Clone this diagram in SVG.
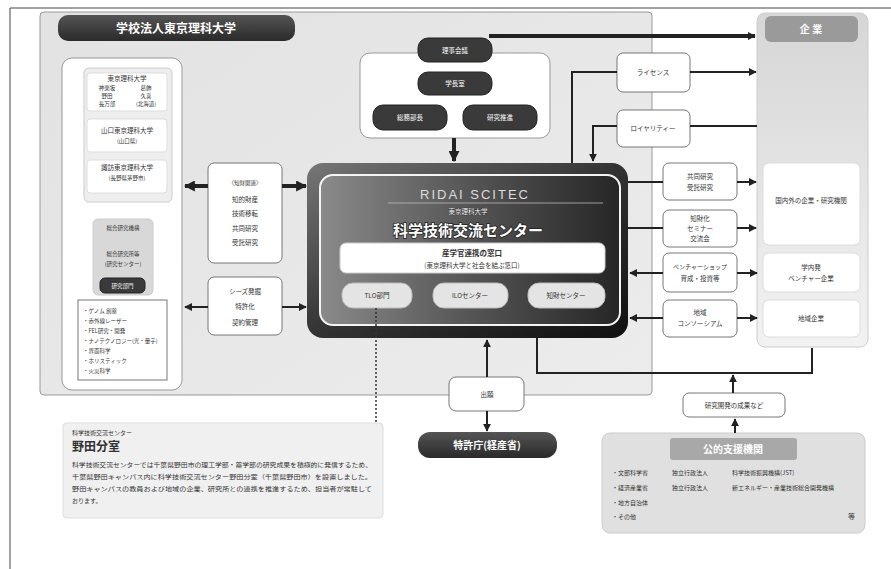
<svg xmlns="http://www.w3.org/2000/svg" width="891" height="569" viewBox="0 0 891 569">
<defs>
<style>
.t{font-family:"Noto Sans CJK JP","Noto Sans",sans-serif;fill:#333}
.s{font-size:6.5px}
.m{font-size:7.5px}
.w{fill:#fff}
.c{text-anchor:middle}
.bx{fill:#fff;stroke:#777;stroke-width:1}
.dp{fill:#3a3a3a;stroke:#222;stroke-width:1}
.lp{fill:#e4e4e4;stroke:#bbb;stroke-width:1}
.ln{fill:none;stroke:#222;stroke-width:2}
.th{fill:none;stroke:#222;stroke-width:4}
</style>
<marker id="ah" viewBox="0 0 10 10" refX="9" refY="5" markerUnits="userSpaceOnUse" markerWidth="8" markerHeight="8" orient="auto-start-reverse"><path d="M0,0 L10,5 L0,10 z" fill="#222"/></marker>
<marker id="ahb" viewBox="0 0 10 10" refX="9" refY="5" markerUnits="userSpaceOnUse" markerWidth="11" markerHeight="11" orient="auto-start-reverse"><path d="M0,0 L10,5 L0,10 z" fill="#222"/></marker>
<linearGradient id="gp" x1="0" y1="0" x2="1" y2="1"><stop offset="0" stop-color="#e2e2e2"/><stop offset="1" stop-color="#ececec"/></linearGradient>
<linearGradient id="go" x1="0" y1="0" x2="1" y2="1"><stop offset="0" stop-color="#777"/><stop offset="0.5" stop-color="#333"/><stop offset="1" stop-color="#111"/></linearGradient>
<linearGradient id="gi" x1="0" y1="0" x2="1" y2="0"><stop offset="0" stop-color="#8a8a8a"/><stop offset="0.5" stop-color="#555"/><stop offset="1" stop-color="#262626"/></linearGradient>
<linearGradient id="gc" x1="0" y1="0" x2="0" y2="1"><stop offset="0" stop-color="#d6d6d6"/><stop offset="1" stop-color="#f2f2f2"/></linearGradient>
<linearGradient id="gd" x1="0" y1="0" x2="0" y2="1"><stop offset="0" stop-color="#555"/><stop offset="1" stop-color="#2a2a2a"/></linearGradient>
</defs>
<rect width="891" height="569" fill="#fff"/>
<path d="M10,569 V8 H891" fill="none" stroke="#444" stroke-width="1"/>

<g id="university-panel">
<rect x="40" y="12" width="612" height="383" rx="4" fill="url(#gp)" stroke="#999" stroke-width="1"/>
<rect x="58" y="15" width="237" height="26" rx="10" fill="url(#gd)"/>
<text class="t w c" x="176" y="33" font-size="12" font-weight="bold">学校法人東京理科大学</text>
</g>

<g id="campus-column">
<rect x="62" y="58" width="120" height="332" rx="10" fill="#fff" stroke="#999"/>
<rect x="84" y="68" width="88" height="134" rx="5" fill="#eee" stroke="#ccc"/>
<rect x="87" y="73" width="80" height="38" rx="3" fill="#fff" stroke="#ddd"/>
<text class="t s c" x="127" y="81">東京理科大学</text>
<text class="t c" font-size="5.5" x="107" y="90">神楽坂</text><text class="t c" font-size="5.5" x="146" y="90">葛飾</text>
<text class="t c" font-size="5.5" x="107" y="98">野田</text><text class="t c" font-size="5.5" x="146" y="98">久喜</text>
<text class="t c" font-size="5.5" x="107" y="106">長万部</text><text class="t c" font-size="5.5" x="146" y="106">(北海道)</text>
<rect x="87" y="119" width="80" height="33" rx="3" fill="#fff" stroke="#ddd"/>
<text class="t s c" x="127" y="133">山口東京理科大学</text>
<text class="t c" font-size="5.5" x="127" y="143">(山口県)</text>
<rect x="87" y="160" width="80" height="33" rx="3" fill="#fff" stroke="#ddd"/>
<text class="t s c" x="127" y="170">諏訪東京理科大学</text>
<text class="t c" font-size="5.5" x="127" y="180">(長野県茅野市)</text>
<rect x="93" y="219" width="60" height="76" rx="5" fill="#d8d8d8" stroke="#ccc"/>
<text class="t c" font-size="5.5" x="123" y="230">総合研究機構</text>
<text class="t c" font-size="5.5" x="123" y="256">総合研究所等</text>
<text class="t c" font-size="5.5" x="123" y="266">(研究センター)</text>
<rect x="100" y="278" width="45" height="15" rx="5" class="dp"/>
<text class="t w c" font-size="5.5" x="122.5" y="288">研究部門</text>
<rect x="78" y="300" width="89" height="80" fill="#fff" stroke="#777"/>
<text class="t" font-size="5.5" x="83" y="313">・ゲノム 創薬</text>
<text class="t" font-size="5.5" x="83" y="323">・赤外線レーザー</text>
<text class="t" font-size="5.5" x="83" y="333">・FEL研究・開発</text>
<text class="t" font-size="5.5" x="83" y="343">・ナノテクノロジー(光・量子)</text>
<text class="t" font-size="5.5" x="83" y="353">・界面科学</text>
<text class="t" font-size="5.5" x="83" y="363">・ホリスティック</text>
<text class="t" font-size="5.5" x="83" y="373">・火災科学</text>
</g>

<g id="ip-box">
<rect x="208" y="163" width="74" height="100" rx="6" class="bx"/>
<text class="t c" font-size="5.5" x="245" y="185">〈知財関連〉</text>
<text class="t s c" x="245" y="202">知的財産</text>
<text class="t s c" x="245" y="216">技術移転</text>
<text class="t s c" x="245" y="231">共同研究</text>
<text class="t s c" x="245" y="245">受託研究</text>
</g>
<g id="seeds-box">
<rect x="208" y="277" width="74" height="58" rx="6" class="bx"/>
<text class="t s c" x="245" y="294">シーズ発掘</text>
<text class="t s c" x="245" y="309">特許化</text>
<text class="t s c" x="245" y="325">契約管理</text>
</g>

<g id="executive-group">
<rect x="360" y="53" width="190" height="85" rx="10" fill="#fff" stroke="#999"/>
<rect x="418" y="38" width="74" height="24" rx="10" class="dp"/>
<text class="t w c s" x="455" y="53">理事会議</text>
<rect x="418" y="72" width="74" height="23" rx="10" class="dp"/>
<text class="t w c s" x="455" y="86">学長室</text>
<rect x="373" y="105" width="74" height="25" rx="10" class="dp"/>
<text class="t w c s" x="410" y="120">総務部長</text>
<rect x="463" y="105" width="74" height="25" rx="10" class="dp"/>
<text class="t w c s" x="500" y="120">研究推進</text>
</g>

<g id="scitec-center">
<rect x="307" y="163" width="321" height="175" rx="16" fill="url(#go)"/>
<rect x="320" y="175" width="300" height="150" rx="13" fill="url(#gi)" stroke="#f4f4f4" stroke-width="2"/>
<text x="475" y="199" text-anchor="middle" font-family="Liberation Sans, sans-serif" font-size="13" fill="#ddd" letter-spacing="2">RIDAI SCITEC</text>
<line x1="388" y1="203" x2="603" y2="203" stroke="#bbb" stroke-width="0.8"/>
<text class="t w c" font-size="6.5" x="468" y="214" stroke="#222" stroke-width="0.5" paint-order="stroke">東京理科大学</text>
<text class="t w c" font-size="15" font-weight="bold" x="468" y="236" stroke="#222" stroke-width="1.5" paint-order="stroke">科学技術交流センター</text>
<rect x="340" y="243" width="265" height="30" rx="6" fill="#fff" stroke="#ccc"/>
<text class="t c m" font-weight="bold" x="472" y="256">産学官連携の窓口</text>
<text class="t c s" x="472" y="268">(東京理科大学と社会を結ぶ窓口)</text>
<rect x="342" y="283" width="70" height="25" rx="11" class="lp"/>
<text class="t c s" x="377" y="298">TLO部門</text>
<rect x="433" y="283" width="75" height="25" rx="11" class="lp"/>
<text class="t c s" x="470" y="298">ILOセンター</text>
<rect x="528" y="283" width="77" height="25" rx="11" class="lp"/>
<text class="t c s" x="566" y="298">知財センター</text>
</g>

<g id="license-box"><rect x="617" y="53" width="73" height="39" rx="6" class="bx"/><text class="t c s" x="653" y="75">ライセンス</text></g>
<g id="royalty-box"><rect x="617" y="110" width="73" height="37" rx="6" class="bx"/><text class="t c s" x="653" y="131">ロイヤリティー</text></g>
<g id="joint-research-box"><rect x="663" y="163" width="74" height="37" rx="6" class="bx"/><text class="t c s" x="700" y="179">共同研究</text><text class="t c s" x="700" y="190">受託研究</text></g>
<g id="seminar-box"><rect x="663" y="210" width="74" height="37" rx="6" class="bx"/><text class="t c s" x="700" y="221">知財化</text><text class="t c s" x="700" y="231">セミナー</text><text class="t c s" x="700" y="241">交流会</text></g>
<g id="venture-box"><rect x="663" y="253" width="74" height="39" rx="6" class="bx"/><text class="t c" font-size="6" x="700" y="269">ベンチャーショップ</text><text class="t c s" x="700" y="281">育成・投資等</text></g>
<g id="consortium-box"><rect x="663" y="300" width="74" height="37" rx="6" class="bx"/><text class="t c s" x="700" y="315">地域</text><text class="t c s" x="700" y="326">コンソーシアム</text></g>

<g id="companies">
<rect x="757" y="13" width="111" height="334" rx="8" fill="url(#gc)" stroke="#ccc"/>
<rect x="765" y="16" width="93" height="26" rx="6" fill="#9a9a9a"/>
<text class="t w c" font-size="10" font-weight="bold" x="811" y="33">企 業</text>
<rect x="763" y="163" width="97" height="82" rx="6" fill="#fff" stroke="#ddd"/>
<text class="t c s" x="811" y="203">国内外の企業・研究機関</text>
<rect x="763" y="253" width="97" height="39" rx="6" fill="#fff" stroke="#ddd"/>
<text class="t c s" x="811" y="270">学内発</text><text class="t c s" x="811" y="281">ベンチャー企業</text>
<rect x="763" y="300" width="97" height="37" rx="6" fill="#fff" stroke="#ddd"/>
<text class="t c s" x="811" y="321">地域企業</text>
</g>

<g id="filing-box"><rect x="449" y="377" width="75" height="34" rx="7" class="bx"/><text class="t c s" x="487" y="397">出願</text></g>
<g id="patent-office"><rect x="418" y="432" width="139" height="26" rx="12" fill="url(#gd)"/><text class="t w c" font-size="10" font-weight="bold" x="487" y="449">特許庁(経産省)</text></g>
<g id="results-box"><rect x="683" y="393" width="102" height="24" rx="6" class="bx"/><text class="t c s" x="734" y="408">研究開発の成果など</text></g>

<g id="noda-office">
<rect x="63" y="423" width="320" height="95" rx="4" fill="#f0f0f0" stroke="#ddd"/>
<text class="t" font-size="6" x="72" y="435">科学技術交流センター</text>
<text class="t" font-size="12" font-weight="bold" x="72" y="451">野田分室</text>
<text class="t" font-size="6" x="72" y="467" textLength="300" lengthAdjust="spacingAndGlyphs">科学技術交流センターでは千葉県野田市の理工学部・薬学部の研究成果を積極的に発信するため、</text>
<text class="t" font-size="6" x="72" y="479" textLength="300" lengthAdjust="spacingAndGlyphs">千葉県野田キャンパス内に科学技術交流センター野田分室（千葉県野田市）を設置しました。</text>
<text class="t" font-size="6" x="72" y="491" textLength="300" lengthAdjust="spacingAndGlyphs">野田キャンパスの教員および地域の企業、研究所との連携を推進するため、担当者が常駐して</text>
<text class="t" font-size="6" x="72" y="503">おります。</text>
</g>

<g id="public-agencies">
<rect x="602" y="433" width="263" height="100" rx="8" fill="#e0e0e0" stroke="#ccc"/>
<rect x="670" y="438" width="127" height="22" rx="3" fill="#a8a8a8"/>
<text class="t w c" font-size="10" font-weight="bold" x="733" y="453">公的支援機関</text>
<text class="t" font-size="6" x="612" y="475">・文部科学省</text><text class="t" font-size="6" x="672" y="475">独立行政法人</text><text class="t" font-size="6" x="732" y="475">科学技術振興機構(JST)</text>
<text class="t" font-size="6" x="612" y="490">・経済産業省</text><text class="t" font-size="6" x="672" y="490">独立行政法人</text><text class="t" font-size="6" x="732" y="490">新エネルギー・産業技術総合開発機構</text>
<text class="t" font-size="6" x="612" y="505">・地方自治体</text>
<text class="t" font-size="6" x="612" y="519">・その他</text>
<text class="t" font-size="7" x="848" y="519">等</text>
</g>

<g id="connectors">
<path class="th" d="M489,36 H755" stroke-width="5" marker-end="url(#ah)"/>
<path class="th" d="M454,138 V161" marker-end="url(#ahb)"/>
<path class="ln" d="M572,163 V72 H617"/>
<path class="ln" d="M690,72 H756" marker-end="url(#ah)"/>
<path class="ln" d="M757,126 H690"/>
<path class="ln" d="M617,126 H593 V161" marker-end="url(#ah)"/>
<path class="ln" d="M628,182 H663"/>
<path class="ln" d="M737,182 H756" stroke-width="1.5" marker-end="url(#ah)"/>
<path class="ln" d="M628,228 H663"/>
<path class="ln" d="M737,228 H756" stroke-width="1.5" marker-end="url(#ah)"/>
<path class="ln" d="M663,273 H630" marker-end="url(#ah)"/>
<path class="ln" d="M737,273 H757" marker-end="url(#ah)"/>
<path class="ln" d="M663,318 H630" marker-end="url(#ah)"/>
<path class="ln" d="M737,318 H757" marker-end="url(#ah)"/>
<path class="th" d="M208,186 H185" marker-end="url(#ahb)"/>
<path class="th" d="M282,186 H306" marker-end="url(#ahb)"/>
<path class="ln" d="M208,307 H185" marker-end="url(#ah)"/>
<path class="ln" d="M282,307 H306" marker-end="url(#ah)"/>
<path class="ln" d="M537,338 V373 H812 V348" stroke-width="2.5"/>
<path class="ln" d="M733,393 V375" marker-end="url(#ah)"/>
<path class="ln" d="M735,433 V419" marker-end="url(#ah)"/>
<path class="ln" d="M487,377 V340" marker-end="url(#ah)"/>
<path class="ln" d="M487,411 V431" marker-end="url(#ah)"/>
<path d="M376,308 V422" fill="none" stroke="#333" stroke-width="1.5" stroke-dasharray="2,2"/>
</g>
</svg>
